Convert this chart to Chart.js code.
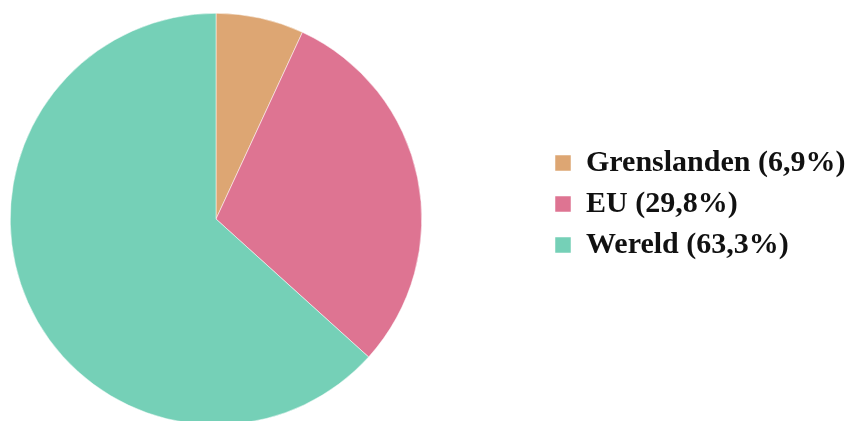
<!DOCTYPE html>
<html>
<head>
<meta charset="utf-8">
<script src="https://cdn.jsdelivr.net/npm/chart.js@4/dist/chart.umd.min.js"></script>
<style>
    html, body { margin: 0; padding: 0; background: #fff; overflow: hidden; }
    #wrap { position: relative; width: 848px; height: 438px; }
</style>
</head>
<body>
<div id="wrap"><canvas id="aandeelChart"></canvas></div>
<script>
const categorieen = ['Grenslanden', 'EU', 'Wereld'];
const aandelen = [6.9, 29.8, 63.3];
const kleuren = ['#dda673', '#de7492', '#75d0b7'];

const labels = categorieen.map((naam, i) => `${naam} (${aandelen[i].toLocaleString('nl-NL')}%)`);

// legenda rechts houden zonder dat de taart opschuift
const legendaPlek = {
    id: 'legendaPlek',
    afterInit(chart) {
        const legend = chart.legend;
        const origFit = legend.fit;
        legend.fit = function() {
            origFit.call(this);
            if (this.isHorizontal()) return;
            this.width = 416;
        };
    },
    afterLayout(chart) {
        const legend = chart.legend;
        legend.left = 544;
        legend.right = 848;
        legend.top -= 15;
        legend.bottom -= 15;
    }
};

const ctx = document.getElementById('aandeelChart').getContext('2d');
const aandeelChart = new Chart(ctx, {
    type: 'pie',
    data: {
        labels: labels,
        datasets: [{
            data: aandelen,
            backgroundColor: kleuren,
            borderColor: '#ffffff',
            borderWidth: 0.5
        }]
    },
    options: {
        responsive: true,
        maintainAspectRatio: false,
        animation: false,
        layout: {
            padding: { top: 13, bottom: 13, left: 0, right: 0 }
        },
        plugins: {
            legend: {
                position: 'right',
                labels: {
                    boxWidth: 16,
                    boxHeight: 16,
                    padding: 11,
                    color: '#111111',
                    font: {
                        family: '"Liberation Serif", "DejaVu Serif", serif',
                        size: 30,
                        weight: 'bold'
                    }
                }
            },
            tooltip: {
                callbacks: {
                    label: function(context) {
                        return `${context.raw.toLocaleString('nl-NL')}%`;
                    }
                }
            }
        }
    },
    plugins: [legendaPlek]
});
</script>
</body>
</html>
